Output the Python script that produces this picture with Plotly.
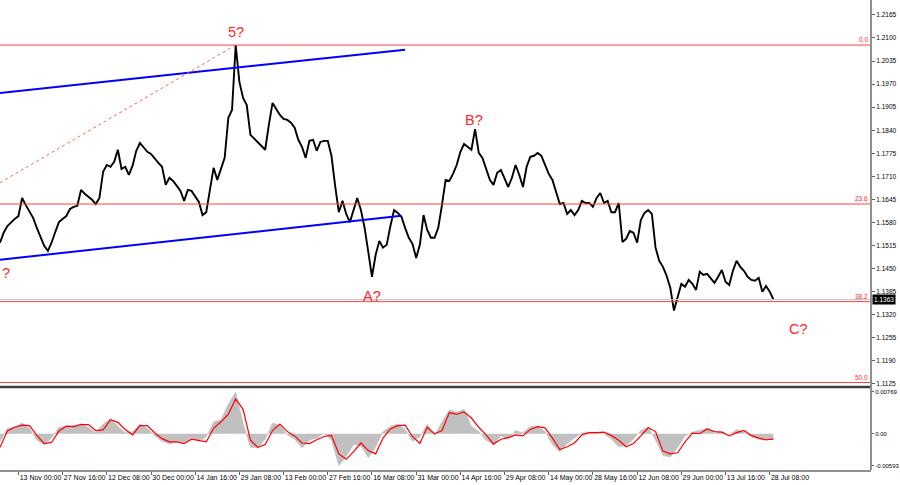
import plotly.graph_objects as go

# H4 closes, one value every other bar step
closes = [
    1.1523, 1.1551, 1.1570, 1.1581, 1.1590, 1.1598, 1.1649, 1.1629, 1.1609, 1.1593,
    1.1565, 1.1537, 1.1514, 1.1500, 1.1523, 1.1553, 1.1581, 1.1590, 1.1598, 1.1618,
    1.1624, 1.1627, 1.1672, 1.1661, 1.1652, 1.1644, 1.1632, 1.1649, 1.1723, 1.1742,
    1.1737, 1.1751, 1.1785, 1.1731, 1.1737, 1.1714, 1.1740, 1.1782, 1.1804, 1.1790,
    1.1779, 1.1773, 1.1759, 1.1748, 1.1737, 1.1686, 1.1706, 1.1697, 1.1683, 1.1669,
    1.1641, 1.1672, 1.1669, 1.1655, 1.1638, 1.1601, 1.1609, 1.1672, 1.1734, 1.1700,
    1.1728, 1.1762, 1.1875, 1.1897, 1.2080, 1.1976, 1.1931, 1.1911, 1.1827, 1.1816,
    1.1807, 1.1793, 1.1785, 1.1855, 1.1917, 1.1900, 1.1883, 1.1872, 1.1869, 1.1861,
    1.1847, 1.1813, 1.1793, 1.1762, 1.1810, 1.1813, 1.1782, 1.1807, 1.1810, 1.1810,
    1.1768, 1.1683, 1.1609, 1.1641, 1.1604, 1.1581, 1.1618, 1.1649, 1.1615, 1.1565,
    1.1497, 1.1427, 1.1489, 1.1528, 1.1509, 1.1517, 1.1570, 1.1615, 1.1607, 1.1596,
    1.1565, 1.1537, 1.1520, 1.1480, 1.1517, 1.1601, 1.1559, 1.1537, 1.1537, 1.1565,
    1.1629, 1.1700, 1.1697, 1.1717, 1.1742, 1.1779, 1.1801, 1.1793, 1.1785, 1.1843,
    1.1776, 1.1762, 1.1734, 1.1700, 1.1686, 1.1720, 1.1728, 1.1703, 1.1680, 1.1706,
    1.1742, 1.1714, 1.1680, 1.1737, 1.1765, 1.1768, 1.1776, 1.1768, 1.1745, 1.1717,
    1.1700, 1.1666, 1.1632, 1.1635, 1.1604, 1.1615, 1.1601, 1.1615, 1.1641, 1.1635,
    1.1635, 1.1624, 1.1649, 1.1663, 1.1635, 1.1641, 1.1609, 1.1609, 1.1635, 1.1525,
    1.1534, 1.1556, 1.1551, 1.1523, 1.1587, 1.1607, 1.1615, 1.1604, 1.1509, 1.1472,
    1.1455, 1.1430, 1.1396, 1.1332, 1.1368, 1.1407, 1.1399, 1.1418, 1.1407, 1.1390,
    1.1441, 1.1432, 1.1435, 1.1424, 1.1410, 1.1427, 1.1446, 1.1413, 1.1404, 1.1444,
    1.1472, 1.1455, 1.1444, 1.1427, 1.1418, 1.1416, 1.1424, 1.1385, 1.1401, 1.1385,
    1.1363,
]
bars = list(range(len(closes)))

# MACD panel, one reading every second bar
macd_bars = list(range(0, len(closes), 2))
macd_hist = [
    -0.0015, 0.0010, 0.0013, 0.0020, 0.0010, -0.0012, -0.0020, -0.0008, 0.0012, 0.0014,
    0.0015, 0.0019, 0.0012, 0.0002, 0.0018, 0.0028, 0.0014, 0.0002, 0.0004, 0.0018,
    0.0010, -0.0004, -0.0014, -0.0019, -0.0015, -0.0016, -0.0008, -0.0014, -0.0006, 0.0022,
    0.0026, 0.0055, 0.0077, 0.0020, -0.0025, -0.0026, -0.0010, 0.0020, 0.0016, -0.0002,
    -0.0010, -0.0026, -0.0012, -0.0008, 0.0000, -0.0012, -0.0059, -0.0042, -0.0020, -0.0022,
    -0.0044, -0.0025, 0.0004, 0.0014, 0.0018, 0.0008, -0.0014, -0.0006, 0.0018, -0.0003,
    0.0022, 0.0044, 0.0040, 0.0045, 0.0014, 0.0004, -0.0012, -0.0020, -0.0004, -0.0010,
    0.0006, 0.0002, 0.0014, 0.0014, 0.0004, -0.0020, -0.0033, -0.0018, -0.0008, 0.0002,
    0.0003, 0.0003, 0.0000, -0.0010, -0.0024, -0.0022, -0.0010, 0.0006, 0.0013, -0.0012,
    -0.0040, -0.0043, -0.0025, -0.0004, 0.0003, 0.0006, 0.0010, 0.0001, 0.0004, -0.0002,
    0.0008, 0.0003, -0.0006, -0.0010, -0.0012, -0.0010,
]
macd_signal = [
    -0.0025, 0.0005, 0.0012, 0.0016, 0.0015, -0.0003, -0.0018, -0.0016, 0.0005, 0.0014,
    0.0013, 0.0017, 0.0017, 0.0006, 0.0007, 0.0026, 0.0021, 0.0008, -0.0002, 0.0015,
    0.0015, 0.0002, -0.0009, -0.0015, -0.0015, -0.0018, -0.0010, -0.0012, -0.0015, 0.0010,
    0.0022, 0.0036, 0.0064, 0.0045, -0.0012, -0.0025, -0.0020, 0.0006, 0.0018, 0.0004,
    -0.0004, -0.0017, -0.0018, -0.0011, -0.0005, -0.0003, -0.0037, -0.0047, -0.0033, -0.0017,
    -0.0031, -0.0037, -0.0008, 0.0009, 0.0015, 0.0016, -0.0005, -0.0018, 0.0012, 0.0000,
    0.0006, 0.0039, 0.0036, 0.0040, 0.0029, 0.0012, -0.0002, -0.0019, -0.0010, -0.0007,
    -0.0002, -0.0004, 0.0008, 0.0013, 0.0011, -0.0008, -0.0029, -0.0024, -0.0017, -0.0002,
    0.0002, 0.0002, 0.0003, -0.0003, -0.0012, -0.0024, -0.0018, -0.0004, 0.0011, 0.0004,
    -0.0032, -0.0037, -0.0035, -0.0015, 0.0001, 0.0000, 0.0009, 0.0004, 0.0003, -0.0004,
    0.0002, 0.0006, -0.0003, -0.0008, -0.0011, -0.0010,
]

date_ticks = [5, 17, 29, 41, 53, 65, 77, 89, 101, 113, 125, 137, 149, 161, 173, 185, 197, 209]
date_labels = ["13 Nov 00:00", "27 Nov 16:00", "12 Dec 08:00", "30 Dec 00:00", "14 Jan 16:00",
               "29 Jan 08:00", "13 Feb 00:00", "27 Feb 16:00", "16 Mar 08:00", "31 Mar 00:00",
               "14 Apr 16:00", "29 Apr 08:00", "14 May 00:00", "28 May 16:00", "12 Jun 08:00",
               "29 Jun 00:00", "13 Jul 16:00", "28 Jul 08:00"]
price_ticks = [1.2165, 1.2100, 1.2035, 1.1970, 1.1905, 1.1840, 1.1775, 1.1710, 1.1645,
               1.1580, 1.1515, 1.1450, 1.1385, 1.1320, 1.1255, 1.1190, 1.1125]
macd_ticks = [0.00769, 0.0, -0.00593]
macd_tick_labels = ["0.00769", "0.00", "-0.00593"]

fib_levels = [1.2080, 1.1632, 1.1357, 1.1129]
fib_names = ["0.0", "23.6", "38.2", "50.0"]
last_price = 1.1363

# channel + wave markup (bar index, price)
channel_upper = [(0, 1.1945), (110, 1.2067)]
channel_lower = [(0, 1.1475), (109, 1.1599)]
dotted_line = [(0, 1.1692), (64, 1.2080)]
wave_labels = [("5?", 64, 1.2117), ("B?", 128.7, 1.1868), ("A?", 101, 1.1373),
               ("C?", 216.7, 1.1280)]

RED = "#FF2828"
FONT = "Liberation Sans, Arial, sans-serif"
XR = 871 / 900

fig = go.Figure()
fig.add_trace(go.Scatter(x=bars, y=closes, mode="lines",
                         line=dict(color="black", width=1.9), yaxis="y"))
fig.add_trace(go.Scatter(x=macd_bars, y=macd_hist, mode="lines", fill="tozeroy",
                         fillcolor="#C0C0C0", line=dict(color="#C0C0C0", width=0.5),
                         yaxis="y2"))
fig.add_trace(go.Scatter(x=macd_bars, y=macd_signal, mode="lines",
                         line=dict(color="#FF0000", width=1.2), yaxis="y2"))

shapes = []
for lvl in fib_levels:
    shapes.append(dict(type="line", xref="paper", yref="y", x0=0, x1=XR, y0=lvl, y1=lvl,
                       line=dict(color="#FF4040", width=1)))
shapes.append(dict(type="line", xref="paper", yref="y", x0=0, x1=XR, y0=last_price, y1=last_price,
                   line=dict(color="#C8C8C8", width=1)))
for seg, col, dash, w in [(channel_upper, "#0000FF", "solid", 2),
                          (channel_lower, "#0000FF", "solid", 2),
                          (dotted_line, "#FF6060", "dot", 1)]:
    shapes.append(dict(type="line", xref="x", yref="y", x0=seg[0][0], y0=seg[0][1],
                       x1=seg[1][0], y1=seg[1][1], line=dict(color=col, width=w, dash=dash)))
# panel separator and right scale line
shapes.append(dict(type="line", xref="paper", yref="paper", x0=0, x1=XR,
                   y0=1 - 387 / 485, y1=1 - 387 / 485, line=dict(color="#404040", width=2.5)))
shapes.append(dict(type="line", xref="paper", yref="paper", x0=XR, x1=XR,
                   y0=1 - 470 / 485, y1=1, line=dict(color="#909090", width=2)))

annotations = []
for lvl, name in zip(fib_levels, fib_names):
    annotations.append(dict(xref="paper", yref="y", x=XR - 0.001, y=lvl, text=name,
                            xanchor="right", yanchor="bottom", showarrow=False,
                            font=dict(color=RED, size=6.5, family=FONT)))
for txt, bx, py in wave_labels:
    annotations.append(dict(xref="x", yref="y", x=bx, y=py, text=txt, showarrow=False,
                            font=dict(color=RED, size=14.5, family=FONT)))
# leftover wave tag at the left edge; only its question mark is on screen
annotations.append(dict(xref="x", yref="y", x=0, y=1.1438, text="?", xanchor="left",
                        showarrow=False, font=dict(color=RED, size=14.5, family=FONT)))
annotations.append(dict(xref="paper", yref="y", x=XR + 0.001, y=last_price, text="1.1363",
                        xanchor="left", showarrow=False, bgcolor="black", borderpad=1,
                        font=dict(color="white", size=6.5, family=FONT)))

fig.update_layout(
    width=900, height=485, margin=dict(l=0, r=0, t=0, b=0, autoexpand=False),
    paper_bgcolor="white", plot_bgcolor="white", showlegend=False,
    font=dict(family=FONT, size=6.5, color="black"),
    xaxis=dict(domain=[0, XR], range=[0, 236.5], anchor="y2", tickvals=date_ticks,
               ticktext=date_labels, ticks="outside", ticklen=3, tickcolor="#606060",
               ticklabelposition="outside right", tickfont=dict(size=7), tickangle=0,
               showline=True, linecolor="#909090", linewidth=1.5, automargin=False,
               showgrid=False, zeroline=False),
    yaxis=dict(domain=[1 - 385 / 485, 1], range=[1.1122, 1.2207], side="right", anchor="x",
               tickvals=price_ticks, tickformat=".4f", ticks="outside", ticklen=3,
               tickcolor="#606060", showgrid=False, zeroline=False, automargin=False),
    yaxis2=dict(domain=[1 - 470 / 485, 1 - 389 / 485], range=[-0.00667, 0.00824], side="right",
                anchor="x", tickvals=macd_ticks, ticktext=macd_tick_labels, ticks="outside",
                ticklen=2, tickcolor="#606060", tickfont=dict(size=6), showgrid=False,
                zeroline=False, automargin=False),
    shapes=shapes, annotations=annotations,
)

# the page's default 8px body margin would shift the 900x485 figure out of the window
fig.write_html("out.html", config={"displayModeBar": False},
               post_script="document.body.style.margin='0';document.body.style.overflow='hidden';")
